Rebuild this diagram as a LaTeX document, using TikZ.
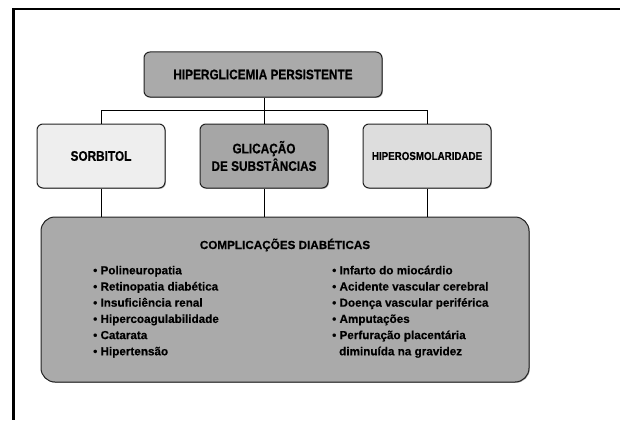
\documentclass[tikz,border=0pt]{standalone}
\usepackage{fontspec}
\setmainfont[BoldFeatures={FakeBold=0.4}]{Liberation Sans}
\newfontfamily\narrowfont[FakeStretch=0.85,BoldFeatures={FakeBold=0.4}]{Liberation Sans}
\usetikzlibrary{shadows}
\definecolor{boxdark}{HTML}{AAAAAA}
\definecolor{boxmid}{HTML}{A6A6A6}
\definecolor{boxlight}{HTML}{EEEEEE}
\definecolor{boxpale}{HTML}{DDDDDD}
\definecolor{edge}{HTML}{222222}
\tikzset{
  box/.style={draw=edge, line width=1pt, rounded corners=6pt, inner sep=0pt,
    align=center, font=\narrowfont\bfseries\fontsize{13.9}{17.5}\selectfont,
    drop shadow={shadow xshift=0.8pt, shadow yshift=-0.8pt, fill=black, opacity=0.35}},
  conn/.style={draw=black, line width=0.8pt},
  item/.style={inner sep=0pt, anchor=base west, font=\bfseries\fontsize{11.7}{14}\selectfont},
  frameline/.style={line width=2.4pt, black}
}
\begin{document}
\begin{tikzpicture}[x=1pt,y=-1pt]
\useasboundingbox (0,0) rectangle (620,420);
\fill[white] (0,0) rectangle (620,420);
% outer frame
\coordinate (fTL) at (13.5,9);
\coordinate (fTR) at (620,9);
\coordinate (fBL) at (13.5,420);
\draw[frameline] (fTR) -- (fTL) -- (fBL);
% boxes
\node[box, fill=boxdark, minimum width=238pt, minimum height=45pt] (top) at (263,74.5) {HIPERGLICEMIA PERSISTENTE};
\node[box, fill=boxlight, minimum width=128pt, minimum height=64pt] (sorb) at (101,156) {SORBITOL};
\node[box, fill=boxmid, minimum width=128pt, minimum height=64pt] (glic) at (264,156) {GLICAÇÃO\\DE SUBSTÂNCIAS};
\node[box, fill=boxpale, minimum width=128pt, minimum height=64pt, font=\narrowfont\bfseries\fontsize{11.5}{13}\selectfont] (hyp) at (427,156) {HIPEROSMOLARIDADE};
\node[box, fill=boxdark, rounded corners=14pt, minimum width=488pt, minimum height=165pt] (comp) at (285,299.5) {};
% connectors
\coordinate (j) at (264,110);
\draw[conn] (top.south -| j) -- (j);
\draw[conn] (j) -| (sorb.north);
\draw[conn] (j) -| (hyp.north);
\draw[conn] (j) -- (glic.north);
\draw[conn] (sorb.south) -- (sorb.south |- comp.north);
\draw[conn] (glic.south) -- (glic.south |- comp.north);
\draw[conn] (hyp.south) -- (hyp.south |- comp.north);
% contents
\node[item, anchor=base] (ctitle) at (285,249) {COMPLICAÇÕES DIABÉTICAS};
\foreach \t [count=\i] in {Polineuropatia, Retinopatia diabética, Insuficiência renal, Hipercoagulabilidade, Catarata, Hipertensão}
  \node[item] (L\i) at (93,{274.3+(\i-1)*16.2}) {\textbullet\ \t};
\foreach \t [count=\i] in {Infarto do miocárdio, Acidente vascular cerebral, Doença vascular periférica, Amputações, Perfuração placentária}
  \node[item] (R\i) at (332,{274.3+(\i-1)*16.2}) {\textbullet\ \t};
\node[item] (R6) at (339,{274.3+5*16.2}) {diminuída na gravidez};
\end{tikzpicture}
\end{document}
